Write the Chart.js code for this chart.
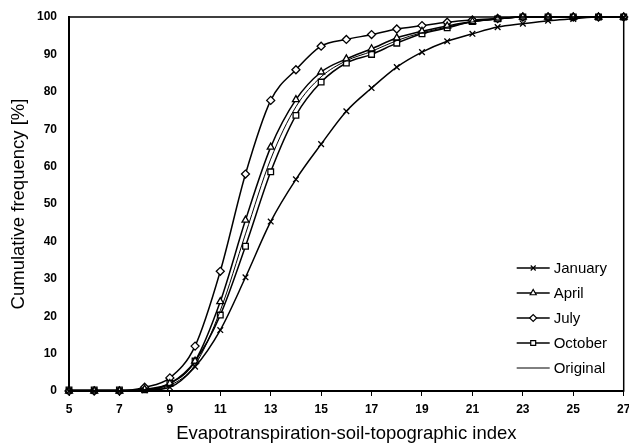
<!DOCTYPE html>
<html>
<head>
<meta charset="utf-8">
<script src="https://cdn.jsdelivr.net/npm/chart.js@4.4.0/dist/chart.umd.min.js"></script>
<style>
  html, body { margin: 0; padding: 0; background: #fff; }
  #wrap { width: 629px; height: 445px; }
</style>
</head>
<body>
<div id="wrap"><canvas id="myChart" width="629" height="445"></canvas></div>
<script>
const indexValues = [5, 6, 7, 8, 9, 10, 11, 12, 13, 14, 15, 16, 17, 18, 19, 20, 21, 22, 23, 24, 25, 26, 27];

const january = [0, 0, 0, 0.2, 1, 6.5, 16.3, 30.4, 45.3, 56.6, 66, 74.8, 81, 86.6, 90.6, 93.5, 95.5, 97.3, 98.2, 99, 99.5, 100, 100];
const april   = [0, 0, 0, 0.5, 2, 8, 23.9, 45.7, 65.2, 77.9, 85.3, 88.8, 91.5, 94.4, 96.2, 97.6, 98.8, 99.5, 100, 100, 100, 100, 100];
const july    = [0, 0, 0, 1, 3.5, 12, 32, 58, 77.7, 85.9, 92.2, 94, 95.3, 96.8, 97.7, 98.6, 99.2, 99.6, 100, 100, 100, 100, 100];
const october = [0.3, 0.3, 0.3, 0.3, 2, 8, 20.3, 38.7, 58.6, 73.7, 82.6, 87.7, 90, 93, 95.5, 97.1, 98.8, 99.5, 100, 100, 100, 100, 100];
const original = [0, 0, 0, 0.3, 1.5, 7, 21.5, 42, 62, 76, 84, 88.3, 90.8, 93.7, 95.8, 97.3, 98.7, 99.4, 100, 100, 100, 100, 100];

const seriesNames = ['January', 'April', 'July', 'October', 'Original'];

const FONT = "'Liberation Sans', Arial, sans-serif";

function toPoints(values) {
  const pts = [];
  for (let i = 0; i < values.length; i++) {
    pts.push({ x: indexValues[i], y: values[i] });
  }
  return pts;
}

function series(label, values, style, width) {
  return {
    label: label,
    data: toPoints(values),
    borderColor: '#000',
    borderWidth: width,
    backgroundColor: '#fff',
    pointStyle: style,
    pointRadius: style ? 4 : 0,
    pointBorderWidth: 1.3,
    pointBorderColor: '#000',
    pointBackgroundColor: '#fff',
    cubicInterpolationMode: 'monotone',
    clip: false
  };
}

// box round the plot area
const frame = {
  id: 'frame',
  afterDraw(chart) {
    const a = chart.chartArea;
    const ctx = chart.ctx;
    ctx.save();
    ctx.strokeStyle = '#000';
    ctx.lineWidth = 1.5;
    ctx.strokeRect(a.left, a.top, a.right - a.left, a.bottom - a.top);
    ctx.restore();
  }
};

// legend inside the plot, lower right
function drawInnerLegend(chart, list) {
  const a = chart.chartArea;
  const ctx = chart.ctx;
  const x0 = a.right - 107;
  const x1 = a.right - 74;
  ctx.save();
  ctx.font = '15px ' + FONT;
  ctx.textBaseline = 'middle';
  list.forEach(function(ds, i) {
    const y = a.top + 251 + i * 25;
    ctx.strokeStyle = '#000';
    ctx.lineWidth = ds.borderWidth;
    ctx.beginPath();
    ctx.moveTo(x0, y);
    ctx.lineTo(x1, y);
    ctx.stroke();
    if (ds.pointStyle) {
      ctx.fillStyle = '#fff';
      ctx.strokeStyle = '#000';
      ctx.lineWidth = 1.2;
      Chart.helpers.drawPoint(ctx, {
        pointStyle: ds.pointStyle,
        radius: 3.5,
        borderWidth: 1.2,
        rotation: 0
      }, (x0 + x1) / 2, y);
    }
    ctx.fillStyle = '#000';
    ctx.fillText(ds.label, x1 + 4, y + 1);
  });
  ctx.restore();
}

function drawChart() {
  const ctx = document.getElementById('myChart').getContext('2d');
  const datasets = [
    series(seriesNames[4], original, false, 1),
    series(seriesNames[0], january, 'crossRot', 1.5),
    series(seriesNames[1], april, 'triangle', 1.5),
    series(seriesNames[2], july, 'rectRot', 1.5),
    series(seriesNames[3], october, 'rect', 1.5)
  ];
  // legend order as in the original figure
  const ordered = [datasets[1], datasets[2], datasets[3], datasets[4], datasets[0]];

  const myChart = new Chart(ctx, {
    type: 'line',
    data: { datasets: datasets },
    options: {
      responsive: false,
      animation: false,
      layout: { padding: { top: 17, right: 5, left: 0, bottom: 0 } },
      plugins: {
        legend: { display: false },
        tooltip: { enabled: false }
      },
      scales: {
        x: {
          type: 'linear',
          min: 5,
          max: 27,
          afterFit(scale) {
            scale.height = 54;
            scale.paddingLeft = 0;
            scale.paddingRight = 0;
          },
          ticks: {
            stepSize: 2,
            color: '#000',
            padding: 6,
            maxRotation: 0,
            font: { family: FONT, size: 12, weight: 'bold' }
          },
          grid: { display: true, drawOnChartArea: false, drawTicks: true, tickLength: 5, color: '#000' },
          border: { display: true, color: '#000', width: 2 },
          title: {
            display: true,
            text: 'Evapotranspiration-soil-topographic index',
            color: '#000',
            padding: { top: 0, bottom: 0 },
            font: { family: FONT, size: 18.5 }
          }
        },
        y: {
          min: 0,
          max: 100,
          afterFit(scale) {
            scale.width = 69;
            scale.paddingTop = 0;
            scale.paddingBottom = 0;
          },
          ticks: {
            stepSize: 10,
            color: '#000',
            padding: 12,
            font: { family: FONT, size: 12, weight: 'bold' }
          },
          grid: { display: false, drawTicks: false },
          border: { display: true, color: '#000', width: 2 },
          title: {
            display: true,
            text: 'Cumulative frequency [%]',
            color: '#000',
            padding: { top: 8, bottom: 0 },
            font: { family: FONT, size: 18.5 }
          }
        }
      }
    },
    plugins: [frame, {
      id: 'innerLegend',
      afterDraw(chart) {
        drawInnerLegend(chart, ordered);
      }
    }]
  });
}

window.onload = function() {
  drawChart();
}
</script>
</body>
</html>
